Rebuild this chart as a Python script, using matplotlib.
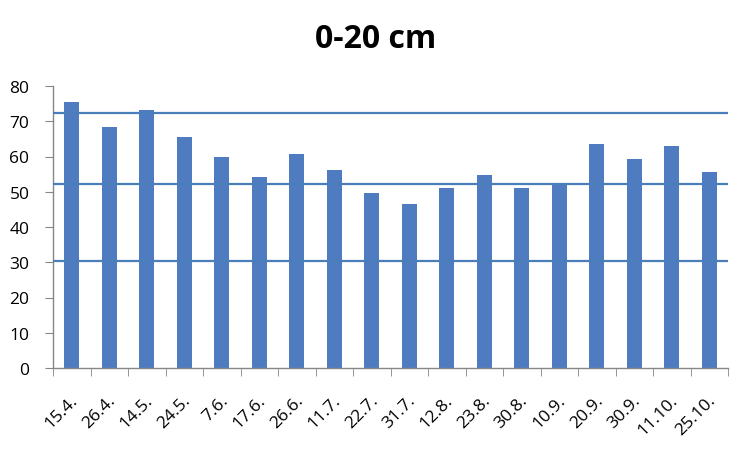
import matplotlib
matplotlib.use("Agg")
import matplotlib.pyplot as plt
import matplotlib.transforms as mtransforms
import numpy as np

categories = ["15.4.", "26.4.", "14.5.", "24.5.", "7.6.", "17.6.", "26.6.", "11.7.", "22.7.",
              "31.7.", "12.8.", "23.8.", "30.8.", "10.9.", "20.9.", "30.9.", "11.10.", "25.10."]
values = [75.6, 68.5, 73.3, 65.6, 60.0, 54.3, 60.8, 56.3, 49.7,
          46.6, 51.2, 54.8, 51.2, 52.5, 63.6, 59.4, 63.1, 55.7]
ref_lines = [72.2, 52.3, 30.4]
yticks = [0, 10, 20, 30, 40, 50, 60, 70, 80]

plt.rcParams['font.family'] = ['Open Sans', 'DejaVu Sans']

fig = plt.figure(figsize=(7.52, 4.52), dpi=100)
ax = fig.add_axes([53/752, 1 - 369/452, (728 - 53)/752, (369 - 87)/452])

x = np.arange(len(categories))
ax.bar(x, values, width=0.4, color="#4F7CC0", zorder=2)
for r in ref_lines:
    ax.axhline(r, color="#4A7EBB", linewidth=1.6, zorder=3)

ax.set_xlim(-0.5, len(categories) - 0.5)
ax.set_ylim(0, 80)
ax.set_yticks(yticks)
ax.set_yticklabels([str(t) for t in yticks], fontsize=12.5)
ax.set_xticks(x)
ax.set_xticklabels(categories, rotation=45, ha="right", rotation_mode="anchor", fontsize=12.5)
ax.tick_params(axis="x", length=0, pad=17)
offset = mtransforms.ScaledTranslation(-2/100, 0, fig.dpi_scale_trans)
for lbl in ax.get_xticklabels():
    lbl.set_transform(lbl.get_transform() + offset)
ax.set_xticks(np.arange(-0.5, len(categories), 1.0), minor=True)
ax.tick_params(axis="x", which="minor", length=6, color="#868686", direction="out")
ax.tick_params(axis="y", length=6, color="#868686", direction="out", pad=11)

for s in ["top", "right"]:
    ax.spines[s].set_visible(False)
for s in ["left", "bottom"]:
    ax.spines[s].set_color("#868686")
    ax.spines[s].set_linewidth(1.0)

fig.text(0.5, 1 - 40/452, "0-20 cm", ha="center", va="center", fontsize=23, fontweight="bold")

fig.savefig("out.png", dpi=100)
